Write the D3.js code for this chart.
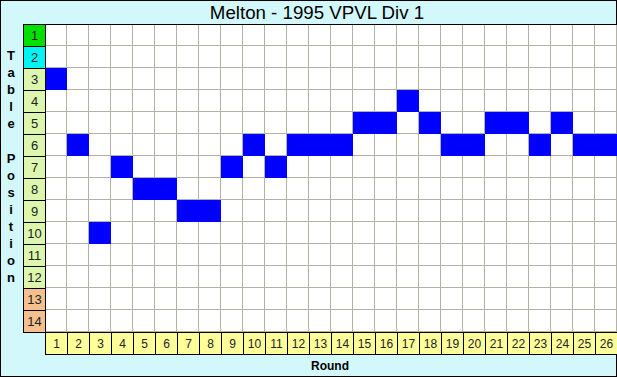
<!DOCTYPE html>
<html>
<head>
<meta charset="utf-8">
<script src="https://cdn.jsdelivr.net/npm/d3@7"></script>
<style>
  body { margin: 0; background: #fff; }
  svg { display: block; font-family: "Liberation Sans", Arial, sans-serif; }
</style>
</head>
<body>
<div id="chart"></div>
<script>
// Ladder position of Melton, round by round
const title = "Melton - 1995 VPVL Div 1";
const rounds = [1, 2, 3, 4, 5, 6, 7, 8, 9, 10, 11, 12, 13, 14, 15, 16, 17, 18, 19, 20, 21, 22, 23, 24, 25, 26];
const positions = [3, 6, 10, 7, 8, 8, 9, 9, 7, 6, 7, 6, 6, 6, 5, 5, 4, 5, 6, 6, 5, 5, 6, 5, 6, 6];
const tablePlaces = [1, 2, 3, 4, 5, 6, 7, 8, 9, 10, 11, 12, 13, 14];
const yLabel = "Table Position";
const xLabel = "Round";

const w = 617;
const h = 377;
const padLeft = 45;
const padTop = 24;
const cell = 22;

const svg = d3.select("#chart").append("svg").attr("width", w).attr("height", h);

// light cyan background, dithered look approximated by flat colour
svg.append("rect").attr("x", 0.5).attr("y", 0.5).attr("width", w - 1).attr("height", h - 1)
  .attr("fill", "#d2f8fb").attr("stroke", "#000");

const xScale = d3.scaleBand().domain(rounds).range([padLeft, padLeft + rounds.length * cell]);
const yScale = d3.scaleBand().domain(tablePlaces).range([padTop, padTop + tablePlaces.length * cell]);

// plot area
svg.append("rect").attr("x", padLeft).attr("y", padTop)
  .attr("width", xScale.range()[1] - padLeft).attr("height", yScale.range()[1] - padTop)
  .attr("fill", "#fff");

// grid
const grid = svg.append("g").attr("stroke", "#b5b2a5").attr("stroke-width", 1);
rounds.forEach((r) => {
  const x = Math.round(xScale(r) + xScale.bandwidth()) - 0.5;
  grid.append("line").attr("x1", x).attr("x2", x).attr("y1", padTop).attr("y2", yScale.range()[1]);
});
tablePlaces.forEach((p) => {
  const y = Math.round(yScale(p) + yScale.bandwidth()) - 0.5;
  grid.append("line").attr("x1", padLeft).attr("x2", xScale.range()[1]).attr("y1", y).attr("y2", y);
});

// position cells
svg.append("g").selectAll("rect").data(rounds).join("rect")
  .attr("x", (d) => xScale(d))
  .attr("y", (d, i) => yScale(positions[i]))
  .attr("width", xScale.bandwidth())
  .attr("height", yScale.bandwidth())
  .attr("fill", "#0000ff");

// table position label boxes
const placeFill = (p) => p === 1 ? "#00e000" : p === 2 ? "#00f4f4" : p >= 13 ? "#f5c08e" : "#dcf7ad";
const yl = svg.append("g");
yl.selectAll("rect").data(tablePlaces).join("rect")
  .attr("x", padLeft - cell + 0.5).attr("y", (d) => yScale(d) + 0.5)
  .attr("width", cell).attr("height", yScale.bandwidth())
  .attr("fill", placeFill).attr("stroke", "#000");
yl.selectAll("text").data(tablePlaces).join("text")
  .attr("x", padLeft - cell / 2 + 0.5).attr("y", (d) => yScale(d) + yScale.bandwidth() / 2 + 5)
  .attr("text-anchor", "middle").attr("font-size", 13).attr("fill", "#222")
  .text((d) => d);

// round label boxes
const xl = svg.append("g");
const rTop = yScale.range()[1];
xl.selectAll("rect").data(rounds).join("rect")
  .attr("x", (d) => xScale(d) + 0.5).attr("y", rTop + 0.5)
  .attr("width", xScale.bandwidth()).attr("height", cell)
  .attr("fill", "#ffff99").attr("stroke", "#000");
xl.selectAll("text").data(rounds).join("text")
  .attr("x", (d) => xScale(d) + xScale.bandwidth() / 2 + 0.5).attr("y", rTop + cell / 2 + 5)
  .attr("text-anchor", "middle").attr("font-size", 12).attr("fill", "#222")
  .text((d) => d);

// top line of the plot
svg.append("line").attr("x1", padLeft - cell).attr("x2", w).attr("y1", padTop + 0.5).attr("y2", padTop + 0.5)
  .attr("stroke", "#000");

// title
svg.append("text").attr("x", 317).attr("y", 19).attr("text-anchor", "middle")
  .attr("font-size", 18.7).attr("fill", "#000").text(title);

// vertical axis title, one letter per line
svg.append("g").selectAll("text").data(yLabel.split("")).join("text")
  .attr("x", 11).attr("y", (d, i) => 60 + i * 17.1)
  .attr("text-anchor", "middle").attr("font-size", 13).attr("font-weight", "bold")
  .text((d) => d);

svg.append("text").attr("x", 330).attr("y", 370).attr("text-anchor", "middle")
  .attr("font-size", 12).attr("font-weight", "bold").text(xLabel);
</script>
</body>
</html>
